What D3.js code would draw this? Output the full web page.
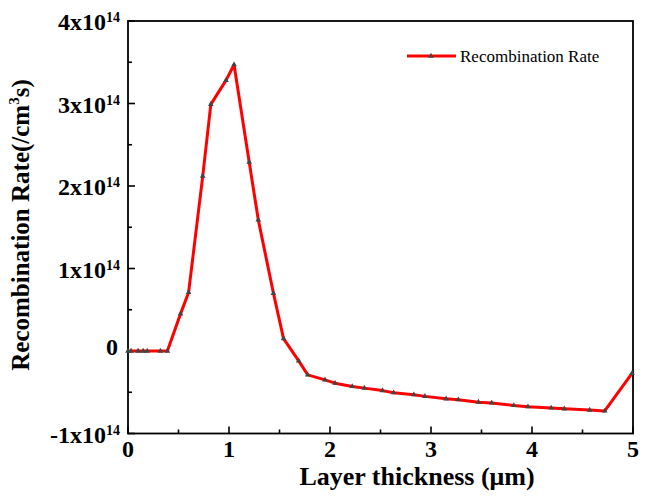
<!DOCTYPE html>
<html lang="en">
<head>
    <meta charset="utf-8">
    <title>Recombination Rate</title>
    <script type="text/javascript" src="https://d3js.org/d3.v7.min.js"></script>
    <style type="text/css">
        body { margin: 0; background: #fff; }
        svg { display: block; }
        text { font-family: "Liberation Serif", "Times New Roman", serif; }
    </style>
</head>
<body>
    <script type="text/javascript">
        // Layer thickness (um) and recombination rate (x1e14 /cm3s)
        var thickness = [0, 0.03, 0.1, 0.15, 0.19, 0.32, 0.39, 0.52, 0.6, 0.74, 0.82, 0.97, 1.05,
            1.2, 1.29, 1.44, 1.54, 1.69, 1.78, 1.95, 2.05, 2.22, 2.34, 2.52, 2.63, 2.83, 2.94,
            3.15, 3.27, 3.47, 3.6, 3.82, 3.96, 4.19, 4.32, 4.57, 4.72, 4.99];
        var rate = [0, 0, 0, 0, 0, 0, 0, 0.45, 0.71, 2.12, 2.99, 3.28, 3.47,
            2.29, 1.59, 0.70, 0.15, -0.12, -0.29, -0.35, -0.39, -0.43, -0.45, -0.48, -0.505, -0.53, -0.55,
            -0.58, -0.59, -0.62, -0.63, -0.66, -0.675, -0.69, -0.70, -0.715, -0.727, -0.27];

        var xTicks = [0, 1, 2, 3, 4, 5];
        var xMinor = [0.5, 1.5, 2.5, 3.5, 4.5];
        var yTicks = [-1, 0, 1, 2, 3, 4];
        var yMinor = [-0.5, 0.5, 1.5, 2.5, 3.5];
        var seriesName = "Recombination Rate";

        var width = 646, height = 501;
        // plot box (named so they don't clash with window.top)
        var plotL = 128, plotR = 633, plotT = 21, plotB = 433.5;

        var x = d3.scaleLinear().domain([0, 5]).range([plotL, plotR]);
        var y = d3.scaleLinear().domain([-1, 4]).range([plotB, plotT]);

        var svg = d3.select("body").append("svg")
            .attr("width", width)
            .attr("height", height);

        // frame
        svg.append("rect")
            .attr("x", plotL).attr("y", plotT)
            .attr("width", plotR - plotL).attr("height", plotB - plotT)
            .attr("fill", "none").attr("stroke", "#000").attr("stroke-width", 1.8);

        // ticks, pointing inward
        svg.selectAll(".xt").data(xTicks.concat(xMinor)).enter().append("line")
            .attr("x1", function(d) { return x(d); })
            .attr("x2", function(d) { return x(d); })
            .attr("y1", plotB)
            .attr("y2", function(d) { return plotB - (d % 1 === 0 ? 7 : 4); })
            .attr("stroke", "#000").attr("stroke-width", 1.6);

        svg.selectAll(".yt").data(yTicks.concat(yMinor)).enter().append("line")
            .attr("y1", function(d) { return y(d); })
            .attr("y2", function(d) { return y(d); })
            .attr("x1", plotL)
            .attr("x2", function(d) { return plotL + (d % 1 === 0 ? 7 : 4); })
            .attr("stroke", "#000").attr("stroke-width", 1.6);

        // x tick labels
        svg.selectAll(".xl").data(xTicks).enter().append("text")
            .attr("x", function(d) { return x(d); })
            .attr("y", plotB + 23)
            .attr("text-anchor", "middle")
            .attr("font-size", 24).attr("font-weight", "bold")
            .text(function(d) { return d; });

        // y tick labels like 3x10^14
        yTicks.forEach(function(d) {
            var t = svg.append("text")
                .attr("x", 120)
                .attr("text-anchor", "end")
                .attr("font-size", 24).attr("font-weight", "bold");
            if (d === 0) {
                t.attr("x", 118).attr("y", y(d) + 4).text("0");
            } else {
                t.attr("y", y(d) + 9);
                t.append("tspan").text(d + "x10");
                t.append("tspan").attr("font-size", 14).attr("dy", -8).text("14");
            }
        });

        // axis titles
        svg.append("text")
            .attr("x", 417).attr("y", 485)
            .attr("text-anchor", "middle")
            .attr("font-size", 26).attr("font-weight", "bold")
            .text("Layer thickness (\u03bcm)");

        var yt = svg.append("text")
            .attr("transform", "translate(29,225) rotate(-90)")
            .attr("text-anchor", "middle")
            .attr("font-size", 25).attr("font-weight", "bold");
        yt.append("tspan").text("Recombination Rate(/cm");
        yt.append("tspan").attr("font-size", 15).attr("dy", -10).text("3");
        yt.append("tspan").attr("dy", 10).text("s)");

        // series line
        var pts = thickness.map(function(d, i) { return [d, rate[i]]; });
        var line = d3.line()
            .x(function(d) { return x(d[0]); })
            .y(function(d) { return y(d[1]); });

        svg.append("path")
            .datum(pts)
            .attr("d", line)
            .attr("fill", "none")
            .attr("stroke", "#ff0000")
            .attr("stroke-width", 3)
            .attr("stroke-linejoin", "round");

        var tri = d3.symbol().type(d3.symbolTriangle).size(14);
        svg.selectAll(".pt").data(pts).enter().append("path")
            .attr("d", tri)
            .attr("transform", function(d) { return "translate(" + x(d[0]) + "," + y(d[1]) + ")"; })
            .attr("fill", "#444");

        // legend
        svg.append("line")
            .attr("x1", 407).attr("x2", 456).attr("y1", 56).attr("y2", 56)
            .attr("stroke", "#ff0000").attr("stroke-width", 3);
        svg.append("path").attr("d", tri)
            .attr("transform", "translate(431,56)").attr("fill", "#444");
        svg.append("text")
            .attr("x", 460).attr("y", 62)
            .attr("font-size", 17)
            .text(seriesName);
    </script>
</body>
</html>
